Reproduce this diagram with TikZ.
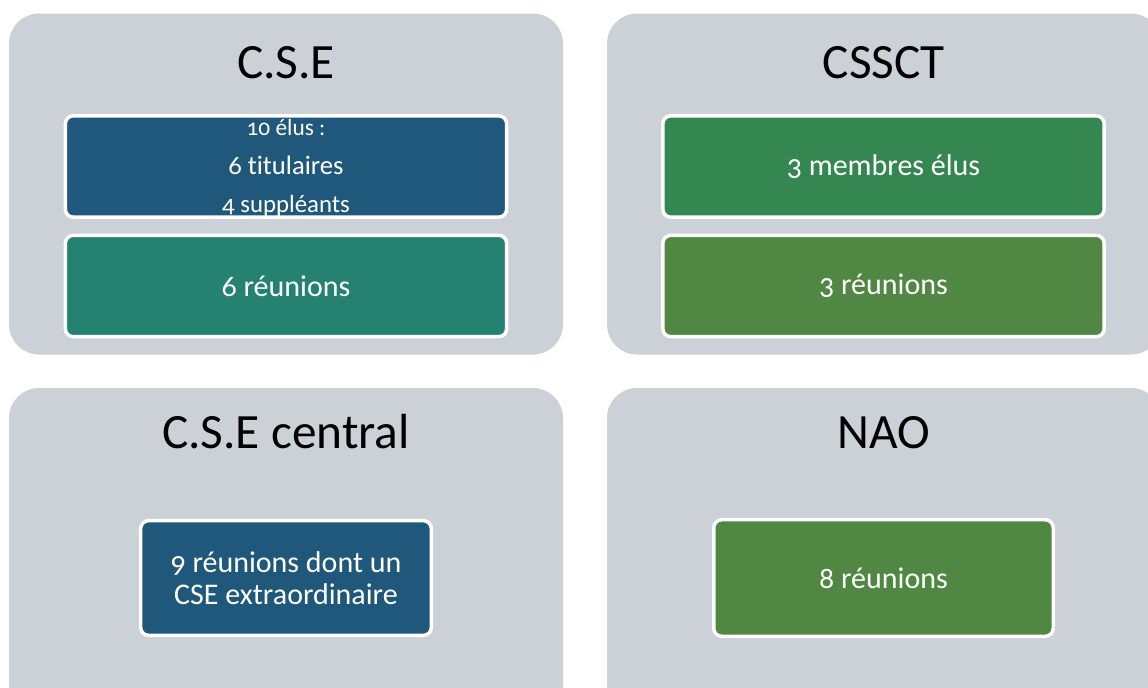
\documentclass[tikz,border=0pt]{standalone}
\usepackage{fontspec}
\setmainfont[Numbers=OldStyle, Ligatures=NoCommon]{Carlito}
\usepackage{xcolor}
\usepackage{tikz}
\usetikzlibrary{positioning}
\tikzset{
    panelnode/.style = {draw=none, fill=panelgray, rectangle, rounded corners=22.5pt, inner sep=0em,
      minimum width=415.5pt, minimum height=255.75pt},
    boxnode/.style = {draw=white, line width=2.6pt, rectangle, rounded corners=6pt, inner sep=0em,
      text=white, font=\fontsize{22.5}{24}\selectfont},
    widebox/.style = {boxnode, minimum width=331pt, minimum height=76pt},
    titlenode/.style = {draw=none, fill=none, rectangle, inner sep=0em, anchor=base,
      font=\fontsize{37}{40}\selectfont},
    textnode/.style = {draw=none, fill=none, rectangle, inner sep=0em, anchor=base, text=white},
    every text node part/.style={align=center}
}
\definecolor{panelgray}{RGB}{204, 208, 215}
\definecolor{cseblue}{RGB}{31, 88, 123}
\definecolor{cseteal}{RGB}{38, 130, 112}
\definecolor{ssctgreen}{RGB}{53, 135, 82}
\definecolor{naogreen}{RGB}{79, 135, 67}

\begin{document}
\begin{tikzpicture}[x=0.75pt, y=-0.75pt]
    \clip (0,0) rectangle (1148,687);

    % C.S.E
    \node[panelnode, name=CSE] at (286,184) {};
    \node[titlenode, name=CSEtitle] at (286,78) {C.S.E};
    \node[widebox, name=CSEelus, fill=cseblue] at (286,166.5) {};
    \node[textnode, name=Elus, font=\fontsize{17.5}{18}\selectfont] at (286,135) {10 élus :};
    \node[textnode, name=Tit, font=\fontsize{20}{22}\selectfont] at (286,174) {6 titulaires};
    \node[textnode, name=Sup, font=\fontsize{18.6}{20}\selectfont] at (286,212) {4 suppléants};
    \node[widebox, name=CSEreu, fill=cseteal] at (286,286) {6 réunions};

    % CSSCT
    \node[panelnode, name=CSSCT] at (884,184) {};
    \node[titlenode, name=CSSCTtitle] at (884,78) {CSSCT};
    \node[widebox, name=CSSCTelus, fill=ssctgreen] at (883.5,166.5) {3 membres élus};
    \node[widebox, name=CSSCTreu, fill=naogreen] at (883.5,286) {3 réunions};

    % C.S.E central
    \node[panelnode, name=CSEC] at (286,558.5) {};
    \node[titlenode, name=CSECtitle] at (286,448) {C.S.E central};
    \node[boxnode, name=CSECreu, fill=cseblue, minimum width=218pt, minimum height=86pt] at (286,578)
      {9 réunions dont un\\CSE extraordinaire};

    % NAO
    \node[panelnode, name=NAO] at (884,558.5) {};
    \node[titlenode, name=NAOtitle] at (884,448) {NAO};
    \node[boxnode, name=NAOreu, fill=naogreen, minimum width=254.6pt, minimum height=87.4pt] at (883.5,578)
      {8 réunions};
\end{tikzpicture}
\end{document}
